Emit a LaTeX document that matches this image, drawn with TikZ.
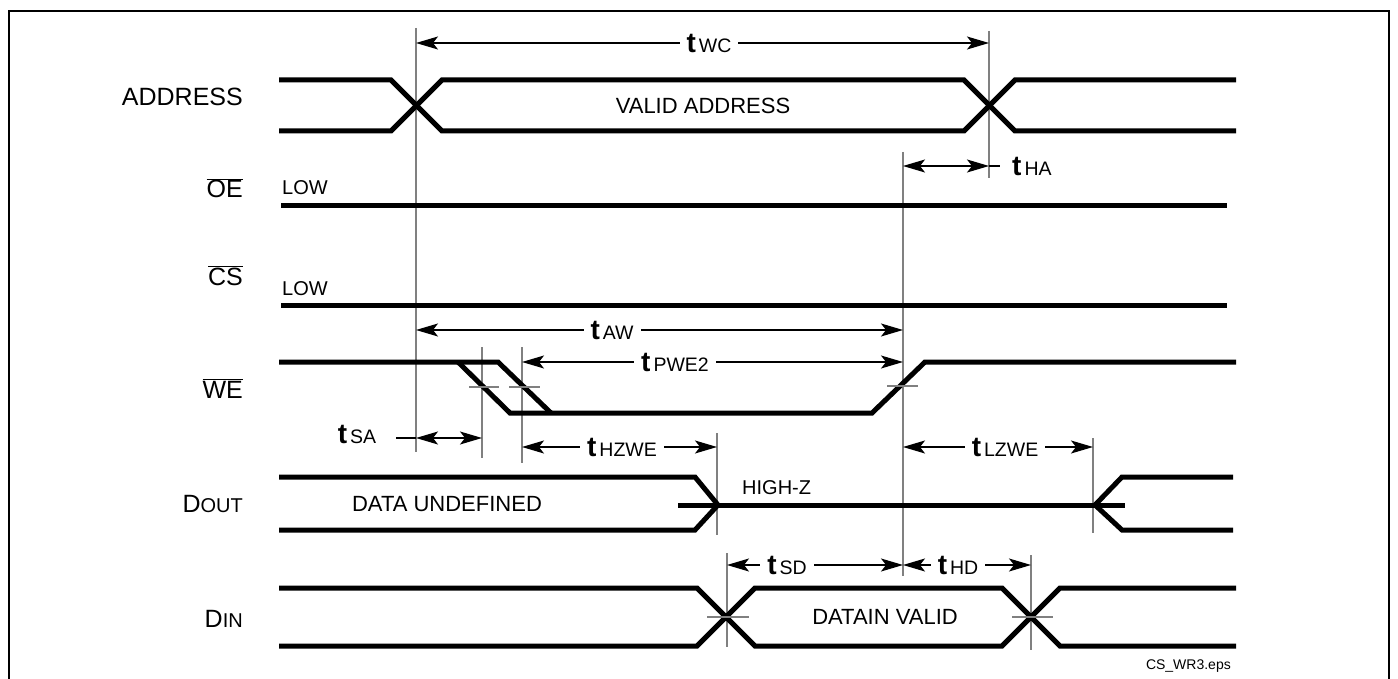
\documentclass[tikz,border=0pt]{standalone}
\usepackage{fontspec}
\setmainfont{Liberation Sans}
\usetikzlibrary{arrows.meta}

\newcommand{\tm}[1]{{\fontsize{28}{28}\selectfont\bfseries t}\hspace{3pt}{\fontsize{19.5}{20}\selectfont #1}}
\newcommand{\barsig}[1]{$\overline{\mbox{#1}}$}
\newcommand{\scsig}[2]{{\fontsize{25}{25}\selectfont #1}{\fontsize{20}{20}\selectfont #2}}

\begin{document}
\begin{tikzpicture}[x=1pt, y=-1pt,
  sig/.style={line width=5pt, line join=miter},
  guide/.style={draw=black!50, line width=1.5pt},
  tick/.style={draw=black!50, line width=1.2pt},
  dim/.style={line width=1.2pt, {Stealth[length=22pt,width=13pt,inset=5pt]}-{Stealth[length=22pt,width=13pt,inset=5pt]}},
  tlbl/.style={fill=white, inner xsep=7pt, inner ysep=1pt},
  signame/.style={anchor=base east, inner sep=0pt, font=\fontsize{25}{30}\selectfont},
  inlbl/.style={inner sep=0pt, font=\fontsize{22}{26}\selectfont},
]
\useasboundingbox (0,0) rectangle (1398,679);

% frame
\draw[line width=2.5pt] (9,690) -- (9,11) -- (1389,11) -- (1389,690);

% signal names
\node[signame] (nAddr) at (243,106) {ADDRESS};
\node[signame] (nOE) at (243,198) {\barsig{OE}};
\node[signame] (nCS) at (243,285) {\barsig{CS}};
\node[signame] (nWE) at (243,398) {\barsig{WE}};
\node[signame] (nDout) at (243,512) {\scsig{D}{OUT}};
\node[signame] (nDin) at (243,627) {\scsig{D}{IN}};

% guide lines
\draw[guide] (416,28) -- (416,452);
\draw[guide] (989,31) -- (989,178);
\draw[guide] (903,152) -- (903,576);
\draw[guide] (482,347) -- (482,458);
\draw[guide] (522,347) -- (522,463);
\draw[guide] (717,433) -- (717,535);
\draw[guide] (1093,438) -- (1093,533);
\draw[guide] (727,553) -- (727,647);
\draw[guide] (1031,555) -- (1031,650);

% ADDRESS
\draw[sig] (279,80) -- (391,80) -- (442,131) -- (964,131) -- (1015,80) -- (1236,80);
\draw[sig] (279,131) -- (391,131) -- (442,80) -- (964,80) -- (1015,131) -- (1236,131);
\node[inlbl] (valAddr) at (703,106) {VALID ADDRESS};

% OE, CS
\node[inlbl, anchor=base west, font=\fontsize{20}{24}\selectfont] (lowOE) at (282,195) {LOW};
\draw[sig] (281,206) -- (1227,206);
\node[inlbl, anchor=base west, font=\fontsize{20}{24}\selectfont] (lowCS) at (282,295) {LOW};
\draw[sig] (281,305) -- (1227,305);

% WE
\draw[sig] (279,362) -- (498,362) -- (551,413);
\draw[sig] (458,362) -- (510,413) -- (872,413) -- (925,362) -- (1236,362);
\draw[tick] (469,387) -- (499,387);
\draw[tick] (509,387) -- (540,387);
\draw[tick] (887,386) -- (918,386);

% DOUT
\draw[sig] (279,477) -- (695,477) -- (718,505) -- (695,530) -- (279,530);
\draw[sig] (678,505) -- (1125,505);
\draw[sig] (1233,477) -- (1122,477) -- (1095,505) -- (1122,530) -- (1233,530);
\node[inlbl] (undef) at (447,504) {DATA UNDEFINED};
\node[inlbl, anchor=west, font=\fontsize{20}{24}\selectfont] (highz) at (742,488) {HIGH-Z};

% DIN
\draw[sig] (279,588) -- (697,588) -- (755,646) -- (1002,646) -- (1060,588) -- (1236,588);
\draw[sig] (279,646) -- (697,646) -- (755,588) -- (1002,588) -- (1060,646) -- (1236,646);
\draw[tick] (707,617) -- (749,617);
\draw[tick] (1012,617) -- (1053,617);
\node[inlbl] (dinValid) at (885,617) {DATAIN VALID};

% timing arrows
\draw[dim] (416,43) -- (989,43);
\node[tlbl] (tWC) at (709,43) {\tm{WC}};
\draw[line width=1.2pt] (989,166) -- (1000,166);
\draw[dim] (903,166) -- (989,166);
\node[anchor=west, inner sep=0pt] (tHA) at (1012,166) {\tm{HA}};
\draw[dim] (416,330) -- (903,330);
\node[tlbl] (tAW) at (612,330) {\tm{AW}};
\draw[dim] (522,362) -- (903,362);
\node[tlbl] (tPWE) at (675,362) {\tm{PWE2}};
\draw[line width=1.2pt] (396,438) -- (416,438);
\draw[dim] (416,438) -- (482,438);
\node[inner sep=0pt] (tSA) at (357,434) {\tm{SA}};
\draw[dim] (522,447) -- (717,447);
\node[tlbl] (tHZWE) at (622,447) {\tm{HZWE}};
\draw[dim] (903,447) -- (1093,447);
\node[tlbl] (tLZWE) at (1005,447) {\tm{LZWE}};
\draw[dim] (727,565) -- (903,565);
\node[tlbl] (tSD) at (787,565) {\tm{SD}};
\draw[dim] (903,565) -- (1031,565);
\node[tlbl] (tHD) at (958,565) {\tm{HD}};

% file name
\node[anchor=east, inner sep=0pt, font=\fontsize{14}{16}\selectfont] (fname) at (1231,666) {CS\_WR3.eps};

\end{tikzpicture}
\end{document}
